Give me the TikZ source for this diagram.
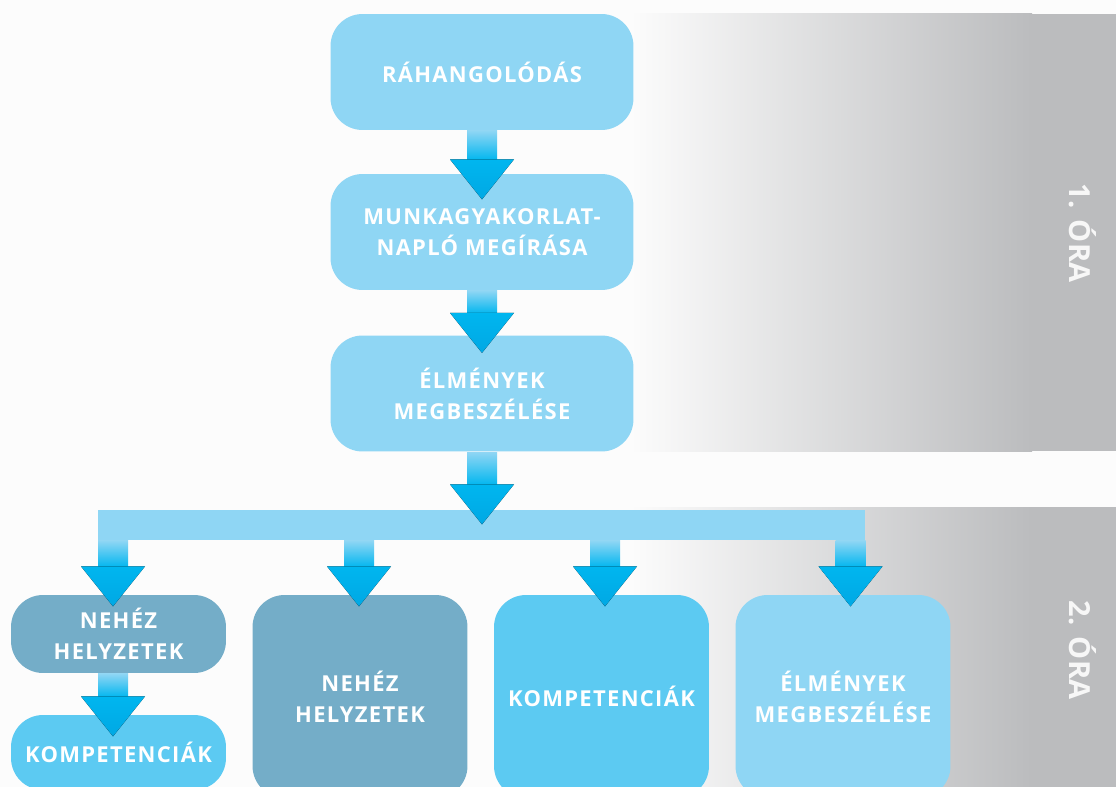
\documentclass[tikz,border=0pt]{standalone}
\usepackage{fontspec}
\usepackage{xcolor}
\usepackage{tikz}
\usetikzlibrary{calc,positioning}
\newfontfamily\boxfont[LetterSpace=6.0]{Open Sans}
\newfontfamily\orafont[LetterSpace=2.0]{Open Sans}
\definecolor{paper}{HTML}{FCFCFC}
\definecolor{bandgray}{HTML}{BBBCBE}
\definecolor{boxlight}{HTML}{8FD6F4}
\definecolor{boxcyan}{HTML}{5CCAF2}
\definecolor{boxsteel}{HTML}{74ADC8}
\definecolor{arrowcyan}{HTML}{00B6EF}
\definecolor{arrowdeep}{HTML}{00A8E4}
\tikzset{every picture/.style={line width=0.75pt}}
\tikzset{
  box/.style={rectangle, rounded corners=0.64cm, inner sep=0pt, fill=boxlight,
    minimum width=6.06cm, minimum height=2.32cm, text=white, align=center,
    font=\boxfont\bfseries\fontsize{12.5}{17.6}\selectfont},
  smallbox/.style={box, minimum width=4.3cm, minimum height=1.56cm},
  bigbox/.style={box, minimum width=4.3cm, minimum height=4.06cm},
  splitbar/.style={rectangle, inner sep=0pt, fill=boxlight,
    minimum width=15.34cm, minimum height=0.6cm},
  oralabel/.style={text=white!97!black, rotate=-90, inner sep=0pt,
    font=\orafont\bfseries\fontsize{16.5}{20}\selectfont}
}
% block arrow: #1 x ref, #2 from, #3 to, #4 overlap of the tip
\newcommand{\flowarrow}[4]{%
  \fill[top color=boxlight, bottom color=arrowcyan]
    ($(#1.center |- #2.south)+(-15,0)$) rectangle ($(#1.center |- #3.north)+(15,#4-39)$);
  \fill[top color=arrowcyan, bottom color=arrowdeep]
    ($(#1.center |- #3.north)+(-32,#4-40)$) -- ($(#1.center |- #3.north)+(32,#4-40)$)
    -- ($(#1.center |- #3.north)+(0,#4)$) -- cycle;
}

\begin{document}
\begin{tikzpicture}[x=0.02cm,y=-0.02cm]
  \useasboundingbox (0,0) rectangle (1116,787);
  \clip (0,0) rectangle (1116,787);
  \fill[paper] (0,0) rectangle (1116,787);
  %
  \fill[left color=paper, right color=bandgray] (630,14) rectangle (1032,451);
  \fill[bandgray] (1030,14) rectangle (1116,451);
  \fill[left color=paper, right color=bandgray] (630,507) rectangle (1032,787);
  \fill[bandgray] (1030,507) rectangle (1116,787);
  \node[oralabel] (ora1) at (1083,233) {1. ÓRA};
  \node[oralabel] (ora2) at (1083,650) {2. ÓRA};
  %
  \node[box] (rahang) at (482,72) {RÁHANGOLÓDÁS};
  \node[box] (naplo) at (482,232) {MUNKAGYAKORLAT-\\NAPLÓ MEGÍRÁSA};
  \node[box] (elm) at (482,393.5) {ÉLMÉNYEK\\MEGBESZÉLÉSE};
  \node[splitbar] (split) at (481.5,525) {};
  %
  \node[smallbox, fill=boxsteel] (nh1) at (118.5,634) {NEHÉZ\\HELYZETEK};
  \node[smallbox, fill=boxcyan, minimum height=1.5cm] (kp1) at (118.5,752.5) {KOMPETENCIÁK};
  \node[bigbox, fill=boxsteel] (nh2) at (360,696.5) {NEHÉZ\\HELYZETEK};
  \node[bigbox, fill=boxcyan] (kp2) at (601.5,696.5) {KOMPETENCIÁK};
  \node[bigbox] (elm2) at (843,696.5) {ÉLMÉNYEK\\MEGBESZÉLÉSE};
  %
  \coordinate (d1) at (113,525);
  \coordinate (d2) at (359,525);
  \coordinate (d3) at (605,525);
  \coordinate (d4) at (850.5,525);
  %
  \flowarrow{rahang}{rahang}{naplo}{26}
  \flowarrow{naplo}{naplo}{elm}{18}
  \flowarrow{elm}{elm}{split}{15}
  \flowarrow{d1}{split}{nh1}{12}
  \flowarrow{d2}{split}{nh2}{12}
  \flowarrow{d3}{split}{kp2}{12}
  \flowarrow{d4}{split}{elm2}{12}
  \flowarrow{d1}{nh1}{kp1}{22}
\end{tikzpicture}
\end{document}
